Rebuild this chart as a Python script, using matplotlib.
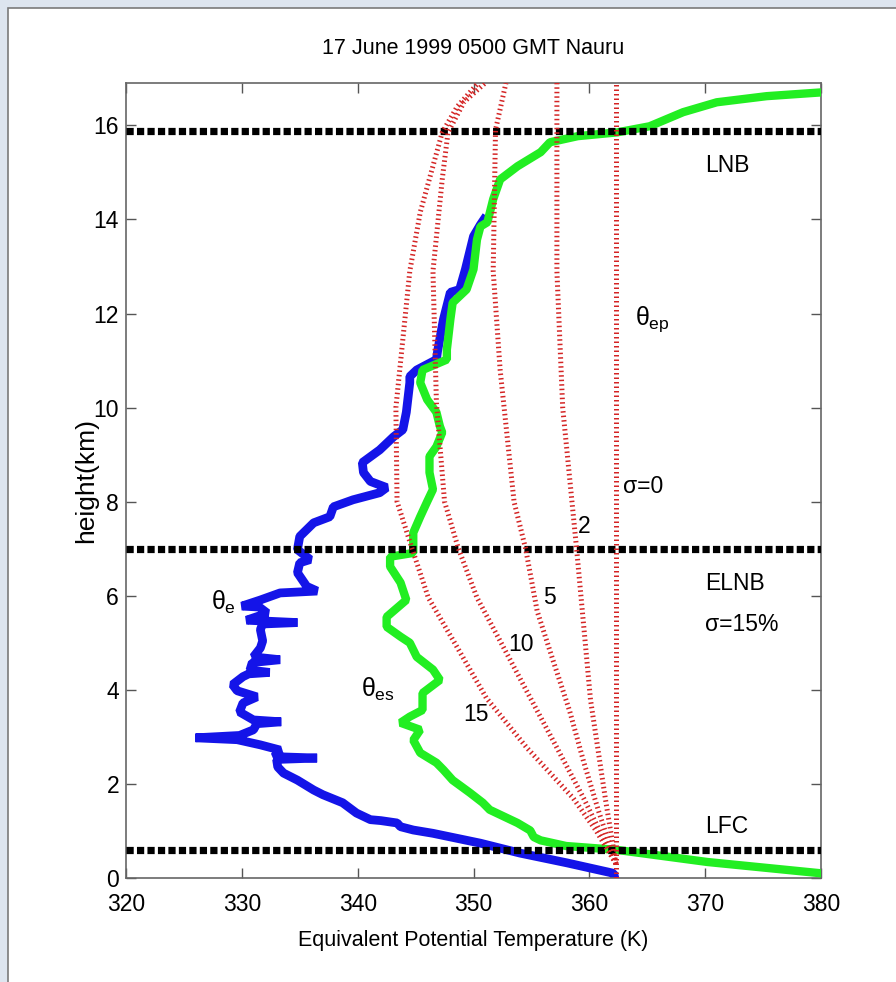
import matplotlib
matplotlib.use('Agg')
import matplotlib.pyplot as plt
import matplotlib.ticker as ticker
from matplotlib.patches import Rectangle

plt.rcParams['font.family'] = ['Liberation Sans', 'DejaVu Sans']
plt.rcParams['mathtext.fontset'] = 'custom'
plt.rcParams['mathtext.rm'] = 'Liberation Sans'
plt.rcParams['mathtext.it'] = 'Liberation Sans'

# theta_e sounding (K, km)
theta_e = [362.2, 362.1, 358.1, 354.0, 350.6, 346.5, 344.8, 343.7, 343.4, 342.0,
           341.1, 339.9, 338.7, 337.0, 336.2, 334.8, 333.6, 333.1, 333.0, 336.5,
           332.8, 333.3, 331.6, 329.6, 326.0, 329.8, 331.0, 331.3, 333.4, 331.0,
           329.8, 330.1, 331.3, 329.6, 329.2, 330.1, 330.6, 332.4, 330.7, 330.9,
           333.3, 331.0, 331.6, 331.8, 331.6, 331.8, 334.8, 330.4, 332.2, 331.5,
           330.0, 331.6, 333.3, 336.5, 335.6, 334.8, 335.0, 335.9, 334.8, 335.0,
           336.2, 337.6, 337.9, 339.6, 341.9, 342.5, 341.1, 340.5, 340.4, 341.9,
           343.1, 343.9, 344.2, 344.5, 344.5, 345.1, 346.8, 346.9, 347.4, 348.0,
           348.8, 349.3, 350.0, 350.6, 350.9]
z_e = [0.00, 0.10, 0.32, 0.53, 0.74, 0.95, 1.02, 1.09, 1.17, 1.22,
       1.24, 1.38, 1.60, 1.77, 1.87, 2.08, 2.23, 2.36, 2.52, 2.55,
       2.58, 2.72, 2.83, 2.94, 2.98, 3.03, 3.15, 3.28, 3.32, 3.36,
       3.53, 3.72, 3.85, 3.98, 4.11, 4.28, 4.34, 4.37, 4.42, 4.58,
       4.64, 4.70, 4.89, 5.04, 5.28, 5.40, 5.43, 5.48, 5.63, 5.76,
       5.78, 5.91, 6.06, 6.10, 6.20, 6.49, 6.70, 6.77, 6.98, 7.26,
       7.55, 7.68, 7.89, 8.04, 8.19, 8.30, 8.43, 8.62, 8.83, 9.10,
       9.38, 9.53, 9.90, 10.53, 10.66, 10.80, 11.02, 11.20, 11.87, 12.45,
       12.51, 12.94, 13.64, 13.89, 14.00]

# saturated theta_es
theta_es = [380.0, 370.2, 362.3, 358.0, 355.8, 355.2, 354.9, 353.8, 351.4, 350.8,
            349.7, 348.2, 347.4, 346.8, 345.4, 344.8, 345.4, 343.7, 344.5, 345.6,
            345.6, 347.1, 346.5, 345.1, 344.5, 343.7, 342.5, 342.5, 344.2, 343.7,
            342.8, 342.8, 344.8, 344.8, 345.4, 346.0, 346.5, 346.2, 346.2, 346.8,
            347.3, 347.1, 346.8, 346.0, 345.4, 345.6, 347.7, 347.7, 348.0, 348.2,
            349.4, 350.0, 350.3, 350.6, 351.2, 351.7, 352.3, 353.8, 355.8, 356.6,
            359.0, 362.4, 365.2, 368.1, 371.0, 375.3, 380.0]
z_es = [0.10, 0.34, 0.60, 0.68, 0.80, 0.87, 1.01, 1.17, 1.45, 1.60,
        1.81, 2.08, 2.30, 2.45, 2.66, 2.93, 3.15, 3.30, 3.43, 3.57,
        3.93, 4.21, 4.43, 4.70, 5.00, 5.13, 5.34, 5.55, 5.91, 6.28,
        6.62, 6.83, 6.91, 7.34, 7.68, 8.00, 8.26, 8.62, 8.96, 9.17,
        9.47, 9.60, 9.90, 10.17, 10.53, 10.80, 11.02, 11.23, 11.87, 12.23,
        12.51, 12.94, 13.57, 13.85, 13.94, 14.43, 14.85, 15.13, 15.43, 15.64,
        15.77, 15.85, 15.98, 16.28, 16.49, 16.62, 16.70]

# entraining parcel theta_ep for each sigma
ep_T = {
    0: [362.3, 362.3],
    2: [362.3, 362.1, 361.4, 360.1, 358.9, 358.5, 357.7, 357.2, 357.2],
    5: [362.3, 360.8, 359.5, 358.3, 356.9, 355.5, 354.5, 353.5, 352.3, 351.7, 351.9, 352.8],
    10: [362.3, 359.5, 357.2, 354.9, 352.6, 350.3, 348.7, 347.5, 346.8, 346.5, 347.3, 347.8, 349.2, 351.0],
    15: [362.3, 360.6, 358.6, 354.6, 351.1, 348.6, 346.1, 344.7, 343.4, 343.3, 344.5, 345.4, 347.3, 348.6, 350.4],
}
ep_z = {
    0: [0.0, 16.9],
    2: [0.3, 0.6, 1.66, 3.79, 7.0, 8.0, 10.0, 12.9, 16.9],
    5: [0.3, 1.42, 2.48, 3.55, 4.6, 5.67, 7.0, 8.0, 10.8, 12.9, 15.9, 16.9],
    10: [0.3, 1.7, 2.77, 3.83, 4.9, 5.96, 7.0, 8.0, 10.1, 12.9, 14.85, 15.85, 16.5, 16.9],
    15: [0.3, 1.0, 1.7, 2.77, 3.83, 4.9, 5.96, 7.0, 8.0, 10.0, 12.9, 14.15, 15.85, 16.4, 16.9],
}

levels = {'LNB': 15.88, 'ELNB': 7.0, 'LFC': 0.6}

fig = plt.figure(figsize=(8.96, 9.82), dpi=100, facecolor='#dde5ef')
# window-like white panel
fig.patches.append(Rectangle((8 / 896, -0.01), 1.0, 1 - 8 / 982 + 0.01, transform=fig.transFigure,
                             facecolor='white', edgecolor='#7a7a7a', lw=1.2, zorder=-5))

ax = fig.add_axes([126 / 896, 104 / 982, 695 / 896, 795 / 982])
ax.set_facecolor('white')

ax.plot(theta_e, z_e, color='#1414e8', lw=6.3, solid_joinstyle='bevel', zorder=2)
ax.plot(theta_es, z_es, color='#22ee22', lw=6.0, solid_joinstyle='bevel', zorder=3)

for name, h in levels.items():
    ax.axhline(h, color='black', lw=5.2, dashes=(1.0, 0.45), dash_capstyle='butt', zorder=4)

for s in ep_T:
    ax.plot(ep_T[s], ep_z[s], color='#d42424', lw=3.6, dashes=(0.3, 0.6), zorder=5)

ax.set_xlim(320, 380)
ax.set_ylim(0, 16.9)
ax.xaxis.set_major_locator(ticker.MultipleLocator(10))
ax.yaxis.set_major_locator(ticker.MultipleLocator(2))
ax.tick_params(direction='in', length=7, width=1, color='#555555', top=True, right=True,
               labelsize=16.5, pad=5)
ax.tick_params(axis='x', pad=11)
for sp in ax.spines.values():
    sp.set_color('#666666')
    sp.set_linewidth(1.2)

ax.set_xlabel('Equivalent Potential Temperature (K)', fontsize=15.5, va='center')
ax.xaxis.set_label_coords(0.5, -0.078)
ax.set_ylabel('height(km)', fontsize=19, va='center')
ax.yaxis.set_label_coords(-0.058, 0.5)
fig.text(473 / 896, 1 - 49 / 982, '17 June 1999 0500 GMT Nauru', ha='center', va='center', fontsize=15.5)

lab = dict(fontsize=16.5, va='center', ha='left')
ax.text(370.0, 15.15, 'LNB', **lab)
ax.text(370.0, 6.26, 'ELNB', **lab)
ax.text(370.0, 5.38, 'σ=15%', **lab)
ax.text(370.0, 1.1, 'LFC', **lab)
ax.text(362.9, 8.32, 'σ=0', **lab)
ax.text(359.0, 7.47, '2', fontsize=16.5, va='center', ha='left')
ax.text(356.0, 5.96, '5', fontsize=16.5, va='center', ha='left')
ax.text(353.0, 4.96, '10', fontsize=16.5, va='center', ha='left')
ax.text(349.1, 3.47, '15', fontsize=16.5, va='center', ha='left')
ax.text(327.3, 5.85, r'$\theta_e$', fontsize=18, va='center', ha='left')
ax.text(340.3, 4.0, r'$\theta_{es}$', fontsize=18, va='center', ha='left')
ax.text(363.9, 11.87, r'$\theta_{ep}$', fontsize=18, va='center', ha='left')

fig.savefig('out.png', dpi=100, facecolor=fig.get_facecolor())
